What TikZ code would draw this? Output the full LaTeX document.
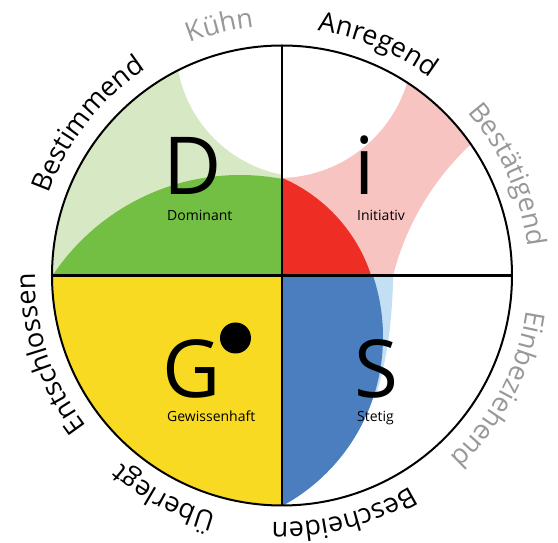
\documentclass[tikz,border=0pt]{standalone}
\usepackage{fontspec}
\setmainfont{Open Sans}
\usetikzlibrary{decorations.text}
\definecolor{dgreen}{RGB}{114,191,68}
\definecolor{lgreen}{RGB}{215,232,196}
\definecolor{dred}{RGB}{238,45,36}
\definecolor{lpink}{RGB}{248,196,194}
\definecolor{dyellow}{RGB}{248,218,34}
\definecolor{dblue}{RGB}{74,126,190}
\definecolor{lblue}{RGB}{194,223,243}
\definecolor{labgray}{RGB}{152,152,152}
\newcommand\labfont{\fontsize{27}{30}\selectfont}
\begin{document}
\begin{tikzpicture}[x=1pt,y=1pt,
  bigletter/.style={font=\fontsize{80}{90}\selectfont, inner sep=0pt, anchor=base},
  smalllabel/.style={font=\fontsize{14}{16}\selectfont, inner sep=0pt, anchor=base west},
  axisline/.style={line width=2.2pt, black},
  rimline/.style={line width=2pt, black}]
\useasboundingbox (-282,-267.5) rectangle (276,275.5);
\fill[white] (-282,-267.5) rectangle (276,275.5);

\begin{scope}
  \clip (0,0) circle[radius=230];
  % top-left: D
  \begin{scope}
    \clip (-231,0) rectangle (0,231);
    \fill[lgreen] (-231,0) rectangle (0,231);
    \fill[white] (25,229.5) circle[radius=131];
    \fill[dgreen] (-42,-124.5) circle[radius=225];
  \end{scope}
  % top-right: i
  \begin{scope}
    \clip (0,0) rectangle (231,231);
    \fill[lpink] (0,0) rectangle (231,231);
    \fill[white] (-4,232.5) circle[radius=135];
    \fill[white] (373,-66.5) circle[radius=270];
    \fill[dred] (-63,-49.5) circle[radius=160];
  \end{scope}
  % bottom-right: S
  \begin{scope}
    \clip (0,0) rectangle (231,-231);
    \fill[lblue] (78,0) -- (111.3,0) .. controls (110,-44.5) and (106,-79.5) .. (95,-116.5) -- (58,-116.5) -- cycle;
    \fill[dblue] (-91,-61.5) circle[radius=192];
  \end{scope}
  % bottom-left: G
  \fill[dyellow] (-231,0) rectangle (0,-231);
\end{scope}

% cross and rim
\coordinate (ntop) at (0,230);
\coordinate (nbot) at (0,-230);
\coordinate (nleft) at (-230,0);
\coordinate (nright) at (230,0);
\coordinate (mid) at (0,0);
\draw[axisline] (ntop) -- (nbot);
\draw[axisline] (nleft) -- (nright);
\draw[rimline] (mid) circle[radius=230];

% letters
\node[bigletter] (D) at (-89,80.5) {D};
\node[bigletter] (I) at (82.5,80.5) {i};
\node[bigletter] (G) at (-90,-122.5) {G};
\node[bigletter] (S) at (94.5,-122.5) {S};
\fill[black] (-46.5,-62.5) circle[radius=15.5];

\node[smalllabel] (dom) at (-115,55) {Dominant};
\node[smalllabel] (ini) at (75,55) {Initiativ};
\node[smalllabel] (gew) at (-115,-146.5) {Gewissenhaft};
\node[smalllabel] (ste) at (75,-146.5) {Stetig};

% outer labels along the rim (clockwise, tops outward)
\path[decorate, decoration={text along path, text align=center,
  text={|\labfont\color{labgray}|Kühn}}]
  (134:250) arc[start angle=134, end angle=74, radius=250];
\path[decorate, decoration={text along path, text align=center,
  text={|\labfont\color{black}|Anregend}}]
  (97.5:247) arc[start angle=97.5, end angle=37.5, radius=247];
\path[decorate, decoration={text along path, text align=center,
  text={|\labfont\color{labgray}|Bestätigend}}]
  (54:247) arc[start angle=54, end angle=-6, radius=247];
\path[decorate, decoration={text along path, text align=center,
  text={|\labfont\color{labgray}|Einbeziehend}}]
  (2.3:247) arc[start angle=2.3, end angle=-57.7, radius=247];
\path[decorate, decoration={text along path, text align=center,
  text={|\labfont\color{black}|Bescheiden}}]
  (-45.5:247) arc[start angle=-45.5, end angle=-105.5, radius=247];
\path[decorate, decoration={text along path, text align=center,
  text={|\labfont\color{black}|Überlegt}}]
  (-88:247) arc[start angle=-88, end angle=-148, radius=247];
\path[decorate, decoration={text along path, text align=center,
  text={|\labfont\color{black}|Entschlossen}}]
  (-131.5:247) arc[start angle=-131.5, end angle=-191.5, radius=247];
\path[decorate, decoration={text along path, text align=center,
  text={|\labfont\color{black}|Bestimmend}}]
  (172:247) arc[start angle=172, end angle=112, radius=247];
\end{tikzpicture}
\end{document}
